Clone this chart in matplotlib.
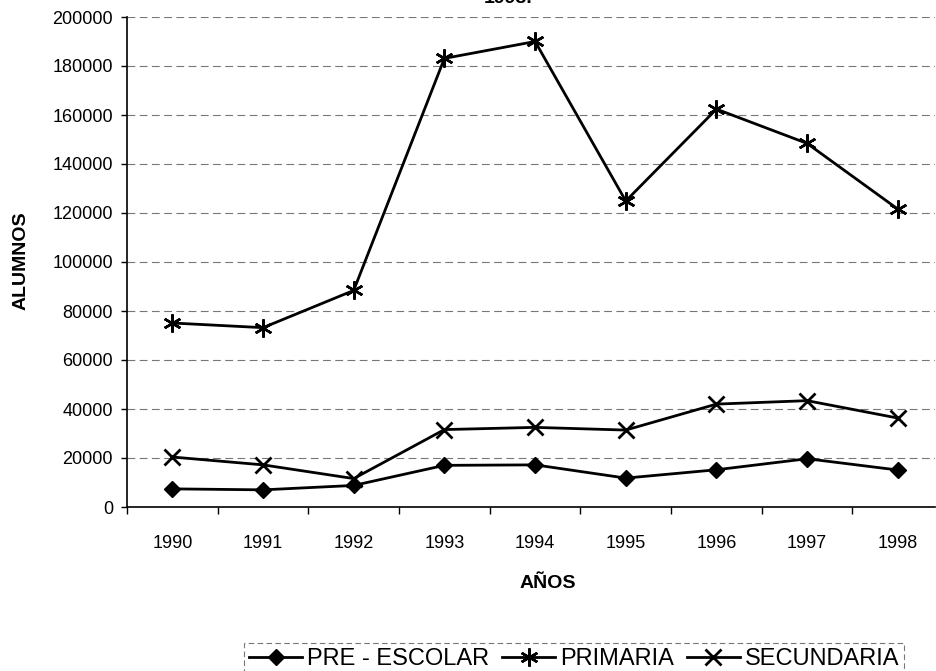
import matplotlib
matplotlib.use('Agg')
import matplotlib.pyplot as plt
from matplotlib.ticker import FixedLocator

plt.rcParams['font.family'] = ['Liberation Sans', 'DejaVu Sans']

# datos (alumnos por año)
anios = ['1990', '1991', '1992', '1993', '1994', '1995', '1996', '1997', '1998']
pre_escolar = [7400, 7000, 8800, 17000, 17200, 11800, 15200, 19700, 15100]
primaria = [75100, 73200, 88400, 183100, 190000, 124900, 162400, 148400, 121600]
secundaria = [20400, 17200, 11600, 31600, 32500, 31400, 42000, 43400, 36300]
y_ticks = list(range(0, 200001, 20000))

W, H = 936, 671
fig = plt.figure(figsize=(W / 100, H / 100), dpi=100)
ax = fig.add_axes([127 / W, (H - 507) / H, (W - 1 - 127) / W, 490 / H])

x = list(range(len(anios)))
ax.plot(x, pre_escolar, color='black', lw=2, marker='D', ms=8, label='PRE - ESCOLAR')
ax.plot(x, primaria, color='black', lw=2, marker=(6, 2, 0), ms=13, mew=1.8, label='PRIMARIA')
ax.plot(x, secundaria, color='black', lw=2, marker='x', ms=11, mew=2, label='SECUNDARIA')

ax.set_ylim(0, 200000)
ax.set_xlim(-0.5, 8.41)
ax.set_yticks(y_ticks)
ax.set_yticklabels([str(v) for v in y_ticks])
ax.set_xticks(x)
ax.set_xticklabels(anios)
ax.xaxis.set_minor_locator(FixedLocator([i + 0.5 for i in range(-1, len(anios))]))

ax.tick_params(axis='y', labelsize=13, length=4, width=1, pad=6)
ax.tick_params(axis='x', which='major', labelsize=13, length=0, pad=20)
ax.tick_params(axis='x', which='minor', length=5, width=1)

ax.grid(axis='y', color='#777777', lw=0.8, linestyle=(0, (7, 4)))
ax.set_axisbelow(True)
for s in ['top', 'right']:
    ax.spines[s].set_visible(False)
ax.spines['left'].set_linewidth(1.2)
ax.spines['bottom'].set_linewidth(1.2)

fig.text(21 / W, 1 - 261 / H, 'ALUMNOS', rotation=90, ha='center', va='center',
         fontsize=14, fontweight='bold')
fig.text(548 / W, 1 - 583 / H, 'AÑOS', ha='center', va='center',
         fontsize=14, fontweight='bold')
# título cortado en la parte superior del escaneo
fig.text(508 / W, 1 - 3 / H, '1998.', ha='center', va='baseline',
         fontsize=14, fontweight='bold')

leg = fig.legend(loc='center', bbox_to_anchor=(574 / W, 1 - 659 / H), ncol=3,
                 fontsize=17, handlelength=2.25, handletextpad=0.2,
                 columnspacing=0.55, borderpad=0.2, borderaxespad=0, fancybox=False)
leg.get_frame().set_edgecolor('#555555')
leg.get_frame().set_linestyle((0, (5, 3)))
leg.get_frame().set_linewidth(0.8)

fig.savefig('out.png', dpi=100)
